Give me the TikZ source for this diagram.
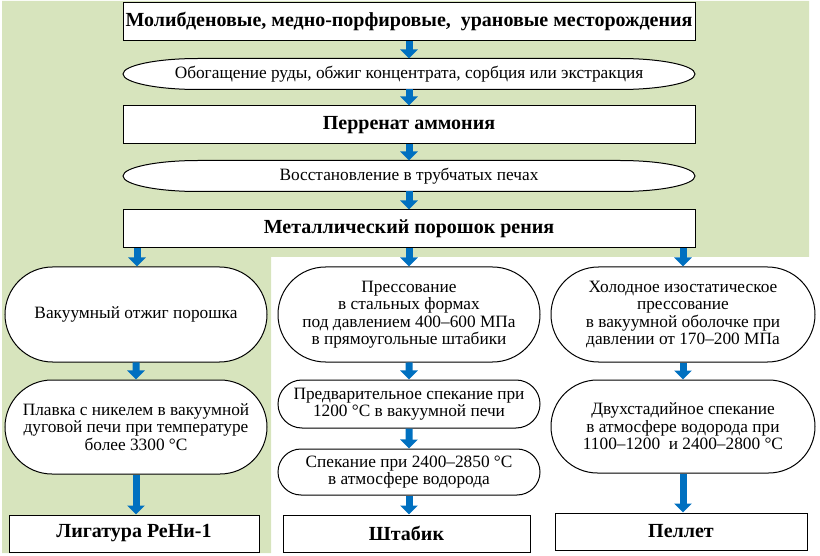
\documentclass[tikz,border=0pt]{standalone}
\usepackage{fontspec}
\setmainfont{Liberation Serif}
\usepackage{tikz}
\usetikzlibrary{arrows.meta,shapes,positioning,backgrounds}
\definecolor{oregreen}{RGB}{215,228,189}
\definecolor{flowblue}{RGB}{0,112,192}

\begin{document}
\begin{tikzpicture}[x=1pt, y=-1pt,
    box/.style={rectangle, draw, fill=white, line width=1pt, minimum width=572pt, minimum height=38pt, inner sep=2pt, font=\fontsize{20}{22}\selectfont\bfseries},
    oval/.style={rectangle, inner sep=0pt, outer sep=0pt, minimum width=572pt, minimum height=31pt, font=\fontsize{17.3}{17.5}\selectfont},
    ovalline/.style={draw, fill=white, line width=1pt},
    pill/.style={rounded rectangle, draw, fill=white, line width=1pt, minimum width=264pt, minimum height=95pt, inner sep=1pt, align=center, font=\fontsize{17.3}{17.5}\selectfont},
    endbox/.style={rectangle, draw, fill=white, line width=1pt, minimum width=250pt, minimum height=37pt, font=\fontsize{20}{22}\selectfont\bfseries},
    arrow/.style={-{Triangle[width=17pt,length=9pt]}, line width=7pt, draw=flowblue}
]
    \useasboundingbox (0,0) rectangle (820,556);
    % green background
    \begin{scope}[on background layer]
        \fill[oregreen] (2,1) -- (809,1) -- (809,257) -- (271,257) -- (271,553) -- (2,553) -- cycle;
    \end{scope}

    % main chain
    \node[box] (deposits) at (409,21.5) {Молибденовые, медно-порфировые,\ \ урановые месторождения};
    \node[oval] (enrich) at (409,74) {Обогащение руды, обжиг концентрата, сорбция или экстракция};
    \node[box] (perrhenate) at (409,125) {Перренат аммония};
    \node[oval] (reduction) at (409,176) {Восстановление в трубчатых печах};
    \node[box] (powder) at (409,229) {Металлический порошок рения};

    % oval outlines behind the text
    \begin{scope}[on background layer]
        \foreach \ov in {enrich,reduction}
            \draw[ovalline] ([xshift=75pt]\ov.north west) -- ([xshift=-75pt]\ov.north east)
                arc[start angle=90, end angle=-90, x radius=75pt, y radius=15.5pt]
                -- ([xshift=75pt]\ov.south west)
                arc[start angle=270, end angle=90, x radius=75pt, y radius=15.5pt] -- cycle;
    \end{scope}

    % left column
    \node[pill] (anneal) at (136,314.5) {Вакуумный отжиг порошка};
    \node[pill, minimum height=94pt] (melting) at (136,427) {Плавка с никелем в вакуумной\\дуговой печи при температуре\\более 3300~°C};
    \node[endbox] (alloy) at (134,533.5) {Лигатура РеНи-1};

    % middle column
    \node[pill] (pressing) at (409,314.5) {Прессование\\в стальных формах\\под давлением 400–600~МПа\\в прямоугольные штабики};
    \node[pill, minimum height=48pt] (presinter) at (409,404) {Предварительное спекание при\\1200~°C в вакуумной печи};
    \node[pill, minimum height=46pt] (sinter) at (409,472) {Спекание при 2400–2850~°C\\в атмосфере водорода};
    \node[endbox, minimum width=247pt] (bar) at (406.5,533.5) {Штабик};

    % right column
    \node[pill, minimum width=266pt] (isostatic) at (683,314.5) {Холодное изостатическое\\прессование\\в вакуумной оболочке при\\давлении от 170–200~МПа};
    \node[pill, minimum width=266pt, minimum height=93pt] (twostage) at (683,426.5) {Двухстадийное спекание\\в атмосфере водорода при\\1100–1200~ и 2400–2800~°C};
    \node[endbox, minimum width=252pt] (pellet) at (681,531.5) {Пеллет};

    \draw[arrow] (deposits) -- (enrich);
    \draw[arrow] (enrich) -- (perrhenate);
    \draw[arrow] (perrhenate) -- (reduction);
    \draw[arrow] (reduction) -- (powder);
    \draw[arrow] (powder.south -| anneal.north) ++(1,0) -- ([xshift=1pt]anneal.north);
    \draw[arrow] (powder.south -| pressing.north) -- (pressing.north);
    \draw[arrow] (powder.south -| isostatic.north) -- (isostatic.north);
    \draw[arrow] (anneal) -- (melting);
    \draw[arrow] (melting.south) -- (melting.south |- alloy.north);
    \draw[arrow] (pressing) -- (presinter);
    \draw[arrow] (presinter) -- (sinter);
    \draw[arrow] (sinter.south) -- (sinter.south |- bar.north);
    \draw[arrow] (isostatic) -- (twostage);
    \draw[arrow] (twostage.south) -- (twostage.south |- pellet.north);
\end{tikzpicture}
\end{document}
